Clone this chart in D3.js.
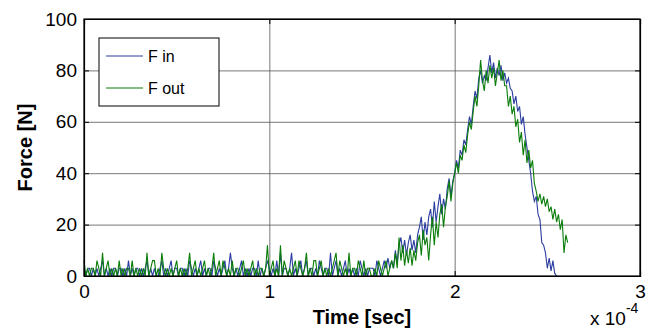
<!DOCTYPE html>
<html>
<head>
<meta charset="utf-8">
<script src="https://cdn.jsdelivr.net/npm/d3@7"></script>
<style>
  body { margin: 0; background: #fff; }
  svg { display: block; font-family: "Liberation Sans", Arial, Helvetica, sans-serif; }
</style>
</head>
<body>
<svg id="chart" width="655" height="330"></svg>
<script>
// sample spacing, in units of 1e-4 sec
const sampleStep = 0.01;
const xTicks = [0, 1, 2, 3];
const yTicks = [0, 20, 40, 60, 80, 100];
const seriesNames = ['F in', 'F out'];
const seriesColors = ['#2b3da0', '#0b7d0b'];

// F in [N]
const fIn = [
  3,0,3,3,0,3,0,3,0,3, 6,0,3,0,3,0,3,3,0,3,
  3,0,3,0,6,0,3,0,3,3, 0,3,0,3,6,0,3,0,3,0,
  0,3,6,0,3,0,3,6,0,3, 3,0,3,3,0,3,0,6,3,0,
  3,0,3,6,0,3,0,3,3,0, 6,3,0,3,0,3,6,0,3,9,
  3,0,3,0,3,6,0,3,0,3, 0,3,3,0,6,0,3,0,3,6,
  3,0,3,0,6,0,9,0,3,3, 0,3,9,0,3,0,3,6,0,3,
  6,0,3,3,0,3,0,6,3,0, 3,3,0,9,0,3,6,0,3,0,
  3,6,0,3,0,3,0,3,0,6, 3,0,3,0,3,3,
  3,0,6,3,0,3, 6,3,7,3,6,3,
  10,5,12,15,9,14,8,13, 16,10,14,9,16,
  19,23,14,21,16,23, 26,19,29,21,27, 32,24,30,26, 34,38,31,37,40,
  45,42,49,47,53,51,57,62,59,66,72,69,77,80,75,
  78,76,81,86,79,83,77,81,78,82,76,79,75,77,73,
  72,67,70,64,66,59,62,55,50,45,40,33,29,31,24,
  22,13,12,9,3,7,2,6,1,0
];

// F out [N]
const fOut = [
  6,0,3,0,3,3,0,6,3,0, 9,0,3,6,0,3,0,3,0,6,
  0,3,0,3,3,0,6,0,3,0, 3,0,3,0,9,0,3,6,6,0,
  3,0,9,3,0,3,0,3,0,3, 6,0,3,0,3,0,3,9,0,3,
  6,0,3,0,3,6,0,3,0,3, 9,0,3,6,0,6,3,0,3,0,
  6,0,3,3,0,3,6,0,3,0, 3,6,0,3,0,3,3,0,3,12,
  0,3,6,0,3,0,12,0,6,3, 0,3,0,3,6,0,6,3,0,3,
  9,0,3,0,6,6,0,3,6,0, 3,0,3,0,3,6,9,0,6,3,
  0,3,0,9,0,3,3,0,6,3, 0,6,0,3,3,0,
  0,3,0,6,3,0, 3,6,0,3,6,3,
  9,3,15,6,12,4,10,5, 11,4,10,6,13,
  16,8,18,12,15,6, 16,23,12,21,15, 24,28,19,27, 31,37,29,36,40,
  44,40,47,45,51,48,55,60,57,64,70,66,74,84,76,
  72,80,75,82,77,81,74,79,84,76,80,74,74,66,70,
  63,66,58,61,52,56,47,53,44,49,42,45,36,33,29,
  32,28,31,27,30,25,27,22,26,21,24,18,22,9,16,13
];

const margin = { top: 19, right: 15, bottom: 54, left: 84 };
const width = 655 - margin.left - margin.right;
const height = 330 - margin.top - margin.bottom;

const svg = d3.select('#chart');
const viz = svg.append('g')
  .attr('transform', `translate(${margin.left},${margin.top})`);

const xScale = d3.scaleLinear().domain([0, 3]).range([0, width]);
const yScale = d3.scaleLinear().domain([0, 100]).range([height, 0]);

// grid
viz.append('g')
  .attr('class', 'grid')
  .call(d3.axisLeft(yScale).tickValues(yTicks).tickSize(-width).tickFormat(''))
  .call((g) => g.select('.domain').remove())
  .selectAll('line')
  .attr('stroke', '#555')
  .attr('stroke-width', 0.8);

viz.append('g')
  .attr('class', 'grid')
  .attr('transform', `translate(0,${height})`)
  .call(d3.axisBottom(xScale).tickValues(xTicks).tickSize(-height).tickFormat(''))
  .call((g) => g.select('.domain').remove())
  .selectAll('line')
  .attr('stroke', '#555')
  .attr('stroke-width', 0.8);

// series
const series = [fIn, fOut];
const line = d3.line()
  .x((d, i) => xScale(i * sampleStep))
  .y((d) => yScale(d));

viz.selectAll('path.series')
  .data(series)
  .enter()
  .append('path')
  .attr('class', 'series')
  .attr('d', (d) => line(d))
  .attr('fill', 'none')
  .attr('stroke', (d, i) => seriesColors[i])
  .attr('stroke-width', 1.1);

// axes: labels outside, small ticks inside
const yAxis = viz.append('g')
  .call(d3.axisLeft(yScale).tickValues(yTicks).tickSize(-5).tickPadding(7));
const xAxis = viz.append('g')
  .attr('transform', `translate(0,${height})`)
  .call(d3.axisBottom(xScale).tickValues(xTicks).tickFormat(d3.format('d'))
    .tickSize(-5).tickPadding(9));
viz.append('g')
  .attr('transform', `translate(${width},0)`)
  .call(d3.axisRight(yScale).tickValues(yTicks).tickSize(-5).tickFormat(''));
viz.append('g')
  .call(d3.axisTop(xScale).tickValues(xTicks).tickSize(-5).tickFormat(''));

viz.selectAll('.domain').attr('stroke', '#000').attr('stroke-width', 1.2);
[yAxis, xAxis].forEach((g) => g.selectAll('text')
  .attr('fill', '#000')
  .style('font-size', '19px'));

viz.append('rect')
  .attr('width', width)
  .attr('height', height)
  .attr('fill', 'none')
  .attr('stroke', '#000')
  .attr('stroke-width', 1.2);

// axis titles
svg.append('text')
  .attr('x', margin.left + width / 2)
  .attr('y', 324)
  .attr('text-anchor', 'middle')
  .style('font-size', '20px')
  .style('font-weight', 'bold')
  .text('Time [sec]');

svg.append('text')
  .attr('transform', `translate(32,${margin.top + height / 2}) rotate(-90)`)
  .attr('text-anchor', 'middle')
  .style('font-size', '20px')
  .style('font-weight', 'bold')
  .text('Force [N]');

const expLabel = svg.append('text')
  .attr('x', 590)
  .attr('y', 325)
  .style('font-size', '19px');
expLabel.append('tspan').text('x 10');
expLabel.append('tspan')
  .attr('dy', -12)
  .style('font-size', '14px')
  .text('-4');

// legend
const legend = svg.append('g').attr('transform', 'translate(99,38)');
legend.append('rect')
  .attr('width', 120)
  .attr('height', 68)
  .attr('fill', '#fff')
  .attr('stroke', '#000')
  .attr('stroke-width', 1);
const entry = legend.selectAll('g.entry')
  .data(seriesNames)
  .enter()
  .append('g')
  .attr('class', 'entry')
  .attr('transform', (d, i) => `translate(0,${18 + i * 32})`);
entry.append('line')
  .attr('x1', 7)
  .attr('x2', 44)
  .attr('stroke', (d, i) => seriesColors[i])
  .attr('stroke-width', 1);
entry.append('text')
  .attr('x', 49)
  .attr('y', 6)
  .style('font-size', '16px')
  .text((d) => d);
</script>
</body>
</html>
